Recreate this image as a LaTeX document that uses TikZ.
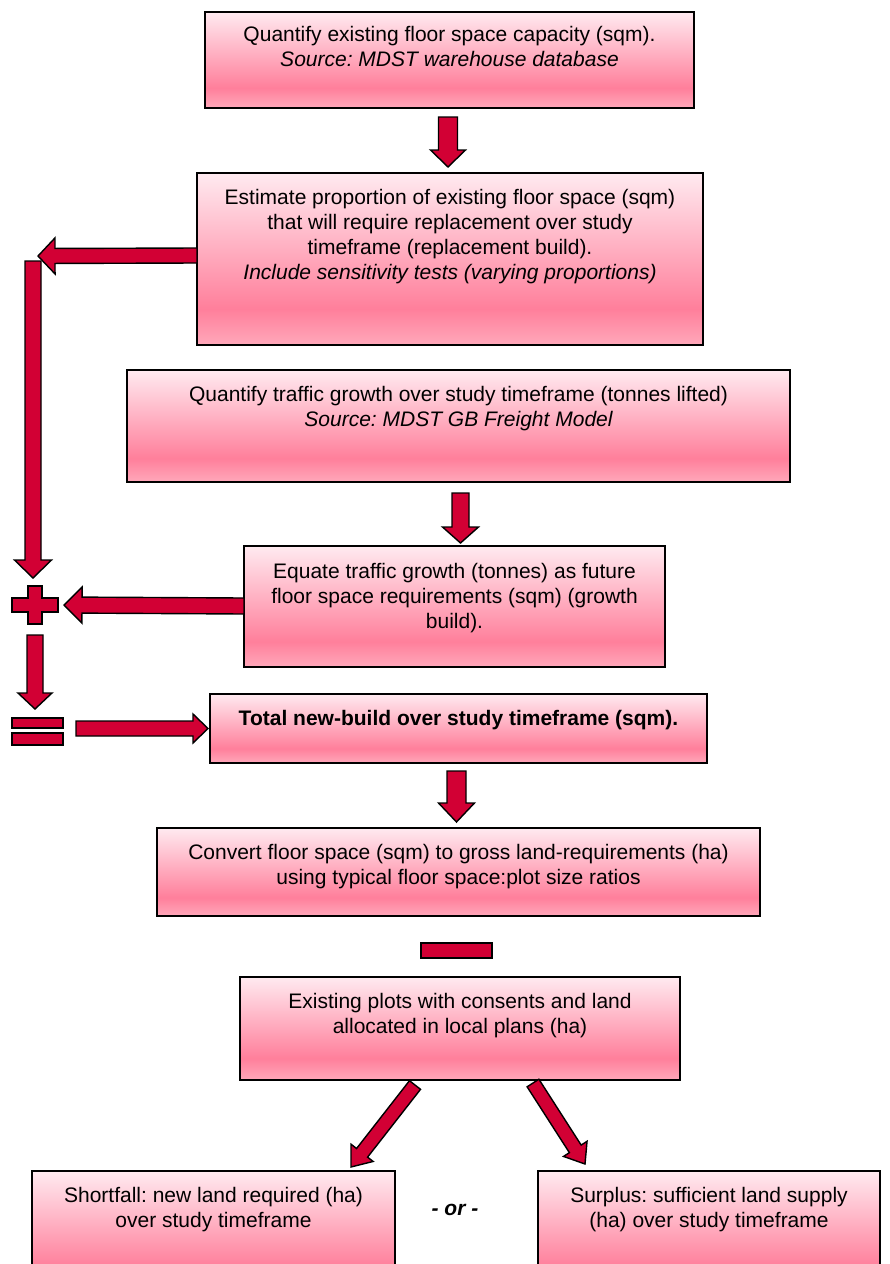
\documentclass[tikz,border=0pt]{standalone}
\usepackage{fontspec}
\setmainfont{Liberation Sans}
\usetikzlibrary{calc}
\frenchspacing
\definecolor{arrowred}{HTML}{D20034}
\definecolor{pinkA}{HTML}{FFEAF0}
\definecolor{pinkB}{HTML}{FF7F9B}
\definecolor{pinkC}{HTML}{FFA8BA}
\pgfdeclareverticalshading{boxshade}{100bp}{color(0bp)=(pinkC); color(25bp)=(pinkC); color(35.5bp)=(pinkB); color(75bp)=(pinkA); color(100bp)=(pinkA)}
\tikzset{
  box/.style={draw=black, line width=1.3bp, shade, shading=boxshade, rectangle, inner sep=0pt, outer sep=0pt},
  btext/.style={anchor=north, inner sep=0pt, align=center, font=\fontsize{21bp}{25bp}\selectfont},
  redshape/.style={draw=black, line width=1.4bp, fill=arrowred, line join=miter},
  redbar/.style={redshape, rectangle, inner sep=0pt, outer sep=0pt},
}
\newcommand\flowbox[5]{%
  \node[box, minimum width={(#4-#2)*1bp}, minimum height={(#5-#3)*1bp}] (#1) at ({(#2+#4)/2},{(#3+#5)/2}) {};}
\newcommand\blockarrow[5]{%
  \coordinate (bahead) at ($(#2)!#5!(#1)$);
  \draw[redshape] ($(#1)!#3!90:(#2)$) -- ($(bahead)!#3!90:(#2)$) -- ($(bahead)!#4!90:(#2)$)
    -- (#2) -- ($(bahead)!#4!-90:(#2)$) -- ($(bahead)!#3!-90:(#2)$) -- ($(#1)!#3!-90:(#2)$) -- cycle;}
\begin{document}
\begin{tikzpicture}[x={(1bp,0bp)}, y={(0bp,-1bp)}]
\useasboundingbox (0,0) rectangle (890,1264);
\begin{scope}
\clip (0,0) rectangle (890,1264);
% boxes
\flowbox{b1}{205}{12}{694}{108}
\flowbox{b2}{197}{173}{703}{345}
\flowbox{b3}{127}{370}{790}{482}
\flowbox{b4}{244}{546}{665}{667}
\flowbox{b5}{210}{694}{707}{763}
\flowbox{b6}{157}{828}{760}{916}
\flowbox{b7}{240}{977}{680}{1080}
\flowbox{b8}{32}{1171}{395}{1292}
\flowbox{b9}{538}{1171}{880}{1292}
% texts
\node[btext] (t1) at ($(b1.north)+(0,14.5)$) {Quantify existing floor space capacity (sqm).\\ \itshape Source: MDST warehouse database};
\node[btext] (t2) at ($(b2.north)+(0,16)$) {Estimate proportion of existing floor space (sqm)\\ that will require replacement over study\\ timeframe (replacement build).\\ \itshape Include sensitivity tests (varying proportions)};
\node[btext] (t3) at ($(b3.north)+(0,16)$) {Quantify traffic growth over study timeframe (tonnes lifted)\\ \itshape Source: MDST GB Freight Model};
\node[btext] (t4) at ($(b4.north)+(0,17)$) {Equate traffic growth (tonnes) as future\\ floor space requirements (sqm) (growth\\ build).};
\node[btext, font=\bfseries\fontsize{21bp}{25bp}\selectfont] (t5) at ($(b5.north)+(0,16)$) {Total new-build over study timeframe (sqm).};
\node[btext] (t6) at ($(b6.north)+(0,16)$) {Convert floor space (sqm) to gross land-requirements (ha)\\ using typical floor space:plot size ratios};
\node[btext] (t7) at ($(b7.north)+(0,16.5)$) {Existing plots with consents and land\\ allocated in local plans (ha)};
\node[btext] (t8) at ($(b8.north)+(0,16.5)$) {Shortfall: new land required (ha)\\ over study timeframe};
\node[btext] (t9) at ($(b9.north)+(0,16.5)$) {Surplus: sufficient land supply\\ (ha) over study timeframe};
\node[inner sep=0pt, font=\bfseries\itshape\fontsize{21bp}{25bp}\selectfont] (ortext) at (455,1210) {- or -};
% arrow end points
\coordinate (a1s) at (448,117);   \coordinate (a1e) at (448,167);
\coordinate (a2s) at (197,255.5); \coordinate (a2e) at (38,256);
\coordinate (a3s) at (33,261);    \coordinate (a3e) at (33,578);
\coordinate (a4s) at (244,606);   \coordinate (a4e) at (64,605);
\coordinate (a5s) at (35,635);    \coordinate (a5e) at (35,709);
\coordinate (a6s) at (76,728.5);  \coordinate (a6e) at (208,728.5);
\coordinate (a7s) at (460.5,493); \coordinate (a7e) at (460.5,543);
\coordinate (a8s) at (456.5,771); \coordinate (a8e) at (456.5,822);
\coordinate (a9s) at (415,1085);  \coordinate (a9e) at (351,1167);
\coordinate (a10s) at (533,1083); \coordinate (a10e) at (585,1164);
% block arrows
\blockarrow{a3s}{a3e}{8bp}{18.5bp}{18bp}
\blockarrow{a2s}{a2e}{7.5bp}{18bp}{17bp}
\blockarrow{a1s}{a1e}{9.5bp}{17.5bp}{17bp}
\blockarrow{a4s}{a4e}{8bp}{18bp}{18bp}
\blockarrow{a5s}{a5e}{8bp}{17bp}{16bp}
\blockarrow{a6s}{a6e}{7.5bp}{14.5bp}{15bp}
\blockarrow{a7s}{a7e}{8.5bp}{18bp}{16bp}
\blockarrow{a8s}{a8e}{9.5bp}{18bp}{19bp}
\blockarrow{a9s}{a9e}{7bp}{14bp}{18bp}
\blockarrow{a10s}{a10e}{7bp}{14bp}{18bp}
% plus, equals, minus
\draw[redshape] (28,586) -- (42,586) -- (42,598) -- (58,598) -- (58,612) -- (42,612) -- (42,624)
  -- (28,624) -- (28,612) -- (12,612) -- (12,598) -- (28,598) -- cycle;
\node[redbar, minimum width=51bp, minimum height=10bp] (eq1) at (37.5,723) {};
\node[redbar, minimum width=51bp, minimum height=12bp] (eq2) at (37.5,739) {};
\node[redbar, minimum width=71bp, minimum height=15bp] (minus) at (456.5,950.5) {};
\end{scope}
\end{tikzpicture}
\end{document}
